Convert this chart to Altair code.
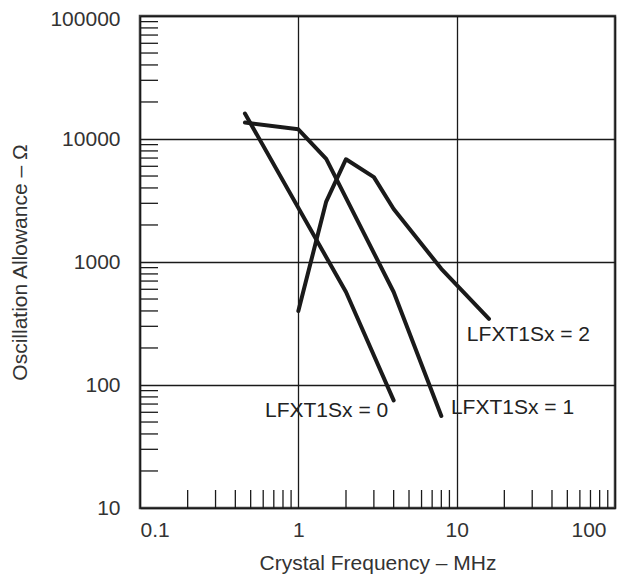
import altair as alt
import pandas as pd

# Series (MHz, Ohm)
freq0 = [0.46, 2, 4]
osc0 = [16100, 570, 75]
freq1 = [0.46, 1, 1.5, 4, 8]
osc1 = [13600, 12000, 6900, 570, 56]
freq2 = [1, 1.5, 2, 3, 4, 8, 16]
osc2 = [400, 3100, 6850, 4900, 2700, 880, 345]

series_names = ["LFXT1Sx = 0", "LFXT1Sx = 1", "LFXT1Sx = 2"]

# Label anchor points (data coordinates)
label_freq = [0.616, 9.2, 11.6]
label_osc = [61.6, 65.3, 256]

x_major = [0.1, 1, 10, 100]
y_major = [10, 100, 1000, 10000, 100000]
x_minor = [m * d for d in [0.1, 1, 10] for m in range(2, 10)]
y_minor = [m * d for d in [10, 100, 1000, 10000] for m in range(2, 10)]

rows = []
for name, fs, os_ in zip(series_names, [freq0, freq1, freq2], [osc0, osc1, osc2]):
    for f, o in zip(fs, os_):
        rows.append({"series": name, "freq": f, "osc": o})
df = pd.DataFrame(rows)
df_lab = pd.DataFrame({"text": series_names, "freq": label_freq, "osc": label_osc})
df_xm = pd.DataFrame({"freq": x_minor})
df_ym = pd.DataFrame({"osc": y_minor})

FONT = "Liberation Sans"
INK = "#1a1a1a"
FS = 21

W, H = 475, 492

xscale = alt.Scale(type="log", domain=[0.1, 100], nice=False)
yscale = alt.Scale(type="log", domain=[10, 100000], nice=False)

xaxis = alt.Axis(values=x_major, format="~g", grid=True, ticks=False, domain=False,
                 labelPadding=11,
                 labelOffset=alt.ConditionalAxisNumber(
                     condition={"test": "datum.value >= 100", "value": -9}, value=0),
                 title="Crystal Frequency – MHz",
                 titleX=W / 2, titleY=55, titleBaseline="middle", titleAlign="center")
yaxis = alt.Axis(values=y_major, format="d", grid=True, ticks=False, domain=False,
                 labelPadding=20,
                 labelOffset=alt.ConditionalAxisNumber(
                     condition={"test": "datum.value >= 100000", "value": 3}, value=0),
                 title="Oscillation Allowance – Ω",
                 titleX=-120, titleY=H / 2, titleAngle=-90,
                 titleBaseline="middle", titleAlign="center")

X = alt.X("freq:Q", scale=xscale, axis=xaxis)
Y = alt.Y("osc:Q", scale=yscale, axis=yaxis)

lines = alt.Chart(df).mark_line(strokeWidth=4, color=INK, strokeCap="round", strokeJoin="round").encode(
    x=X, y=Y, detail="series:N",
)

xm = alt.Chart(df_xm).mark_rule(color=INK, strokeWidth=1.3).encode(
    x=X,
    y=alt.value(H),
    y2=alt.value(H - 18),
)

ym = alt.Chart(df_ym).mark_rule(color=INK, strokeWidth=1.3).encode(
    y=Y,
    x=alt.value(0),
    x2=alt.value(18),
)

labels = alt.Chart(df_lab).mark_text(align="left", baseline="middle", fontSize=FS,
                                     font=FONT, color="#222222").encode(
    x=X, y=Y, text="text:N",
)

chart = alt.layer(lines, xm, ym, labels).properties(
    width=W, height=H,
    autosize=alt.AutoSizeParams(type="none"),
    padding={"left": 132, "top": 8, "right": 10, "bottom": 66},
).configure_view(
    stroke="#444444", strokeWidth=2.5
).configure_axis(
    gridColor=INK, gridWidth=1.3, gridOpacity=1,
    labelFont=FONT, labelFontSize=FS, labelColor="#333333",
    titleFont=FONT, titleFontSize=FS, titleColor="#333333", titleFontWeight="normal",
)

chart.save("out.html", embed_options={"renderer": "svg", "actions": False})
